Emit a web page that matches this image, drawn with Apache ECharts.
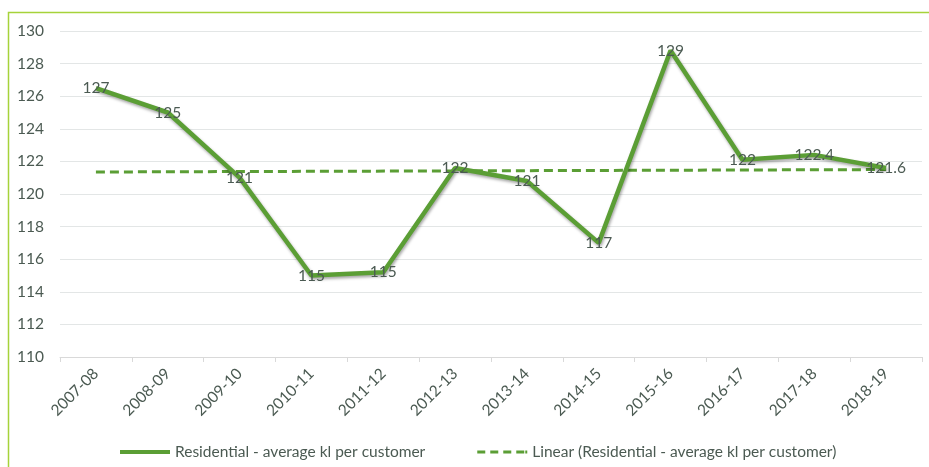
<!DOCTYPE html>
<html>
<head>
<meta charset="utf-8">
<script src="https://cdn.jsdelivr.net/npm/echarts@6/dist/echarts.min.js"></script>
<style>html,body{margin:0;padding:0;background:#fff}#c{width:929px;height:467px}</style>
</head>
<body>
<div id="c"></div>
<script>
const categories = ['2007-08','2008-09','2009-10','2010-11','2011-12','2012-13','2013-14','2014-15','2015-16','2016-17','2017-18','2018-19'];
const residential = [126.5, 125.0, 121.0, 115.0, 115.2, 121.6, 120.8, 117.0, 128.8, 122.1, 122.4, 121.6];
const residentialLabels = ['127','125','121','115','115','122','121','117','129','122','122.4','121.6'];
// Linear trend read at the first and last category
const trendValues = [121.35, null, null, null, null, null, null, null, null, null, null, 121.5];
const yTicks = {min: 110, max: 130, interval: 2};
const seriesNames = ['Residential - average kl per customer', 'Linear (Residential - average kl per customer)'];

const green = '#5b9e35';
const txt = '#4b5a52';
const font = 'Lato, "Open Sans", sans-serif';
const fs = 15.5;

const chart = echarts.init(document.getElementById('c'));
chart.setOption({
  animation: false,
  graphic: [{
    type: 'rect', left: 6, top: 10, z: -1,
    shape: {width: 940, height: 480},
    style: {fill: 'none', stroke: '#a6d33a', lineWidth: 1.5}
  }],
  grid: {left: 60, right: 7, top: 31, bottom: 110},
  legend: {
    left: 115, top: 439,
    itemWidth: 50, itemHeight: 4, itemGap: 52,
    textStyle: {color: txt, fontSize: fs, fontFamily: font},
    data: [
      {name: seriesNames[0], icon: 'path://M0,0h50v4h-50z'},
      {name: seriesNames[1], icon: 'path://M0,0h8v3h-8zM13,0h8v3h-8zM26,0h8v3h-8zM39,0h8v3h-8zM48,0h2v3h-2z'}
    ]
  },
  xAxis: {
    type: 'category', data: categories, boundaryGap: true,
    axisLine: {lineStyle: {color: '#d9d9d9', width: 1}},
    axisTick: {show: true, length: 5, lineStyle: {color: '#d9d9d9'}},
    axisLabel: {rotate: 45, color: txt, fontSize: fs, fontFamily: font, margin: 14, interval: 0}
  },
  yAxis: {
    type: 'value', min: yTicks.min, max: yTicks.max, interval: yTicks.interval,
    axisLine: {show: false}, axisTick: {show: false},
    splitLine: {lineStyle: {color: '#e3e6e6', width: 1}},
    axisLabel: {color: txt, fontSize: fs, fontFamily: font, margin: 16}
  },
  series: [
    {
      name: seriesNames[1], type: 'line', data: trendValues, connectNulls: true,
      symbol: 'none', z: 2,
      lineStyle: {color: green, width: 3, type: [9, 5]},
      itemStyle: {color: green}
    },
    {
      name: seriesNames[0], type: 'line', data: residential, z: 3,
      symbol: 'circle', symbolSize: 0.01, showSymbol: true,
      lineStyle: {color: green, width: 4.5, shadowColor: 'rgba(0,0,0,0.35)', shadowBlur: 3, shadowOffsetY: 2, shadowOffsetX: 1},
      itemStyle: {color: green},
      label: {
        show: true, position: 'inside', color: txt, fontSize: fs, fontFamily: font,
        formatter: p => residentialLabels[p.dataIndex]
      }
    }
  ]
});
</script>
</body>
</html>
